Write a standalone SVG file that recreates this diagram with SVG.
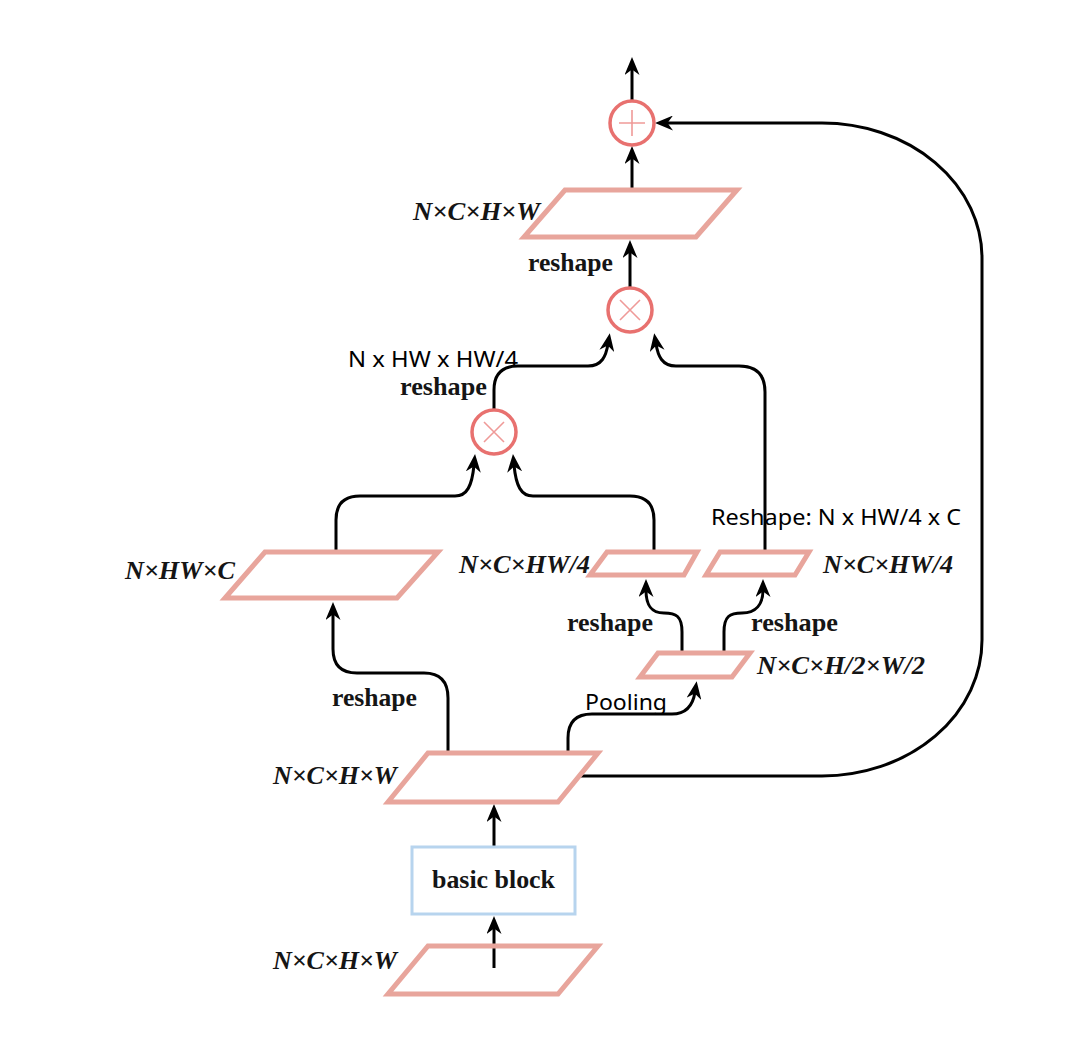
<svg xmlns="http://www.w3.org/2000/svg" width="1068" height="1058" viewBox="0 0 1068 1058">
  <defs>
    <style>
      .para { fill: none; stroke: #E8A59C; stroke-width: 5; stroke-linejoin: miter; }
      .op { fill: #ffffff; stroke: #E8716F; stroke-width: 3.5; }
      .sym { stroke: #EF9A98; stroke-width: 1.6; fill: none; }
      .block { fill: #ffffff; stroke: #B7D4EE; stroke-width: 3; }
      .wire { fill: none; stroke: #000000; stroke-width: 3; marker-end: url(#head); }
      .dim { font-family: "Liberation Serif", "Times New Roman", serif; font-weight: bold; font-style: italic; font-size: 25px; fill: #151515; }
      .op-label { font-family: "Liberation Serif", "Times New Roman", serif; font-weight: bold; font-size: 26px; fill: #151515; }
      .note { font-family: "Noto Sans", "Open Sans", "Liberation Sans", sans-serif; font-size: 21px; fill: #000000; }
    </style>
    <marker id="head" viewBox="0 0 18 15" markerWidth="18" markerHeight="15" refX="7" refY="7.5" orient="auto" markerUnits="userSpaceOnUse">
      <path d="M0,0 L18,7.5 L0,15 L5.5,7.5 z" fill="#000000"/>
    </marker>
  </defs>

  <rect x="0" y="0" width="1068" height="1058" fill="#ffffff"/>

  <!-- connectors -->
  <g id="connectors">
    <path class="wire" d="M632,100 V68"/>
    <path class="wire" d="M632,190 V157"/>
    <path class="wire" d="M630,287 V251"/>
    <path class="wire" d="M494,409 V390 Q494,366 518,366 H588 C602,366 606,356 608,344"/>
    <path class="wire" d="M765,552 V392 Q765,366 739,366 H676 C662,366 658,356 656,344"/>
    <path class="wire" d="M336,552 V520 Q336,496 360,496 H455 C467,496 472,486 474,465"/>
    <path class="wire" d="M654,552 V520 Q654,496 630,496 H533 C521,496 516,486 514,465"/>
    <path class="wire" d="M448,752 V698 Q448,673 424,673 H357 Q333,673 333,649 V613"/>
    <path class="wire" d="M568,752 V738 Q568,714 592,714 H672 C686,714 693,705 695,692"/>
    <path class="wire" d="M682,652 V632 C682,616 676,613 664,613 C650,613 646,604 646,590"/>
    <path class="wire" d="M724,652 V632 C724,616 730,613 742,613 C756,613 763,604 763,590"/>
    <path class="wire" d="M494,847 V815"/>
    <path class="wire" d="M494,968 V927"/>
    <path class="wire" d="M579,776 H822 A160,136 0 0 0 982,640 V258 A160,135 0 0 0 822,123 H666"/>
  </g>

  <!-- element-wise sum -->
  <g id="sum">
    <circle class="op" cx="632" cy="123" r="22"/>
    <path class="sym" d="M619,123 H645 M632,110 V136"/>
  </g>

  <!-- output feature map -->
  <g id="out-map">
    <polygon class="para" points="565,190 737,190 696,237 524,237"/>
    <text class="dim" x="540" y="220" text-anchor="end" textLength="127" lengthAdjust="spacingAndGlyphs">N×C×H×W</text>
  </g>
  <text class="op-label" x="528" y="271" textLength="85" lengthAdjust="spacingAndGlyphs">reshape</text>

  <!-- second matrix product -->
  <g id="mul-2">
    <circle class="op" cx="630" cy="310" r="22"/>
    <path class="sym" d="M620,300 L640,320 M640,300 L620,320"/>
  </g>

  <!-- first matrix product -->
  <g id="mul-1">
    <circle class="op" cx="494" cy="432" r="22"/>
    <path class="sym" d="M484,422 L504,442 M504,422 L484,442"/>
  </g>
  <text class="note" x="348" y="367" textLength="170" lengthAdjust="spacingAndGlyphs">N x HW x HW/4</text>
  <text class="op-label" x="400" y="395" textLength="87" lengthAdjust="spacingAndGlyphs">reshape</text>

  <!-- query branch -->
  <g id="query">
    <polygon class="para" points="265,552 438,552 397,598 225,598"/>
    <text class="dim" x="235" y="579" text-anchor="end" textLength="110" lengthAdjust="spacingAndGlyphs">N×HW×C</text>
  </g>

  <!-- key branch -->
  <g id="key">
    <polygon class="para" points="607,552 697,552 684,575 590,575"/>
    <text class="dim" x="590" y="573" text-anchor="end" textLength="131" lengthAdjust="spacingAndGlyphs">N×C×HW/4</text>
  </g>

  <!-- value branch -->
  <g id="value">
    <polygon class="para" points="720,552 809,552 795,575 706,575"/>
    <text class="dim" x="823" y="573" textLength="130" lengthAdjust="spacingAndGlyphs">N×C×HW/4</text>
  </g>
  <text class="note" x="711" y="525" textLength="250" lengthAdjust="spacingAndGlyphs">Reshape: N x HW/4 x C</text>

  <text class="op-label" x="567" y="631" textLength="86" lengthAdjust="spacingAndGlyphs">reshape</text>
  <text class="op-label" x="751" y="631" textLength="87" lengthAdjust="spacingAndGlyphs">reshape</text>

  <!-- pooled feature map -->
  <g id="pooled">
    <polygon class="para" points="658,653 750,653 732,677 640,677"/>
    <text class="dim" x="757" y="674" textLength="168" lengthAdjust="spacingAndGlyphs">N×C×H/2×W/2</text>
  </g>
  <text class="note" x="585" y="710" textLength="82" lengthAdjust="spacingAndGlyphs">Pooling</text>
  <text class="op-label" x="332" y="706" textLength="85" lengthAdjust="spacingAndGlyphs">reshape</text>

  <!-- block output feature map -->
  <g id="feat-map">
    <polygon class="para" points="428,753 598,753 558,802 388,802"/>
    <text class="dim" x="397" y="784" text-anchor="end" textLength="124" lengthAdjust="spacingAndGlyphs">N×C×H×W</text>
  </g>

  <!-- basic block -->
  <g id="basic-block">
    <rect class="block" x="412" y="847" width="163" height="67"/>
    <text class="op-label" x="493.5" y="888" text-anchor="middle" textLength="123" lengthAdjust="spacingAndGlyphs">basic block</text>
  </g>

  <!-- input feature map -->
  <g id="in-map">
    <polygon class="para" points="428,946 598,946 558,994 388,994"/>
    <text class="dim" x="397" y="969" text-anchor="end" textLength="124" lengthAdjust="spacingAndGlyphs">N×C×H×W</text>
  </g>
</svg>
